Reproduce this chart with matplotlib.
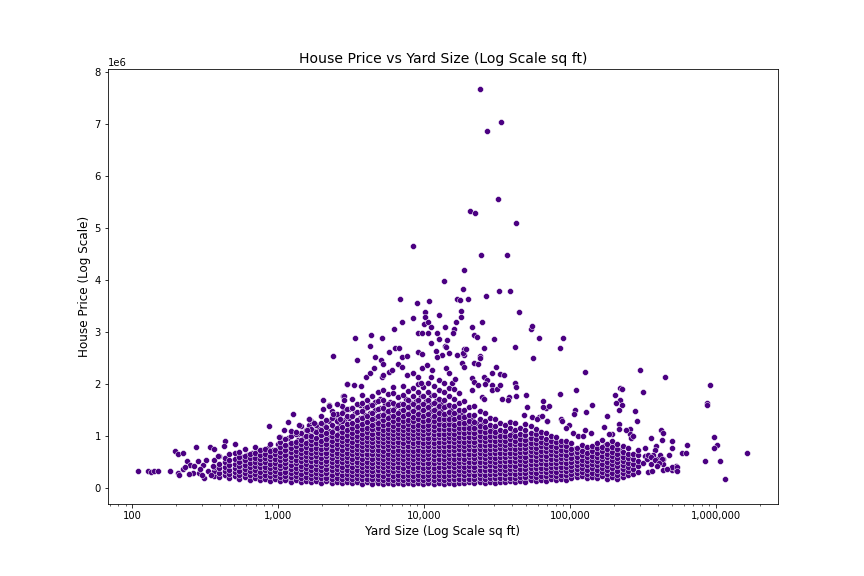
import matplotlib
matplotlib.use("Agg")
import matplotlib.pyplot as plt
from matplotlib.ticker import FuncFormatter

# ---------- DATA ----------
# main body of the cloud: one yard size per column, prices in $k for that column
cloud_yard = [365, 392, 430, 460, 505, 540, 590, 640, 690, 750, 815, 880, 955,
              1035, 1120, 1215, 1320, 1430, 1550, 1680, 1820, 1970, 2140, 2320,
              2510, 2720, 2950, 3200, 3470, 3760, 4070, 4420, 4790, 5190, 5620,
              6100, 6610, 7160, 7760, 8410, 9120, 9890, 10700, 11600, 12600,
              13600, 14800, 16000, 17400, 18800, 20400, 22100, 24000, 26000,
              28200, 30500, 33100, 35900, 38900, 42200, 45700, 49500, 53700,
              58200, 63100, 68400, 74100, 80400, 87100, 94400, 102000, 111000,
              120000, 130000, 141000, 153000, 166000, 180000, 195000, 211000,
              229000, 248000, 269000, 292000]

cloud_price_k = [
    [240, 335, 418, 545],
    [212, 296, 384, 468, 612],
    [251, 327, 413, 497, 588],
    [198, 284, 357, 452, 538, 655],
    [232, 306, 393, 472, 561, 684],
    [178, 263, 338, 424, 497, 593, 702],
    [213, 287, 372, 447, 534, 618, 745],
    [168, 254, 326, 413, 488, 574, 657],
    [193, 268, 353, 428, 514, 587, 684, 792],
    [158, 243, 318, 404, 477, 563, 638, 733],
    [183, 257, 344, 418, 503, 578, 664, 758],
    [148, 234, 307, 393, 468, 553, 627, 724, 843],
    [172, 246, 334, 408, 494, 566, 653, 738],
    [138, 218, 303, 382, 453, 543, 622, 703, 788, 884, 992],
    [164, 243, 318, 407, 478, 566, 637, 728, 827, 938],
    [128, 213, 292, 373, 447, 537, 608, 693, 776, 873, 1004, 1098],
    [152, 232, 313, 388, 478, 547, 633, 712, 803, 897, 1042],
    [118, 203, 282, 364, 437, 528, 597, 684, 762, 853, 937, 1063, 1204],
    [142, 217, 304, 382, 463, 537, 628, 697, 793, 876, 1003, 1127],
    [113, 198, 272, 358, 437, 518, 592, 678, 757, 848, 927, 1013, 1148, 1293],
    [137, 212, 303, 372, 458, 532, 623, 692, 783, 867, 963, 1077, 1224],
    [108, 193, 267, 353, 432, 513, 587, 673, 747, 843, 917, 1014, 1117, 1253, 1388],
    [132, 207, 293, 367, 458, 527, 613, 687, 778, 857, 953, 1057, 1183, 1317],
    [103, 188, 262, 348, 422, 513, 582, 668, 742, 833, 907, 998, 1087, 1213, 1347, 1484],
    [127, 202, 288, 362, 448, 522, 613, 682, 768, 847, 938, 1027, 1153, 1287, 1423],
    [98, 183, 257, 343, 417, 503, 577, 663, 737, 823, 902, 993, 1077, 1173, 1297, 1443, 1587],
    [122, 197, 283, 357, 443, 517, 603, 677, 768, 842, 933, 1017, 1123, 1237, 1383, 1517],
    [93, 178, 252, 338, 412, 498, 572, 658, 732, 818, 892, 983, 1057, 1153, 1247, 1383, 1537, 1724],
    [117, 192, 278, 352, 438, 512, 598, 672, 758, 832, 923, 997, 1093, 1187, 1313, 1457, 1623],
    [88, 173, 247, 333, 407, 493, 567, 653, 727, 813, 887, 973, 1047, 1143, 1237, 1353, 1477, 1643, 1787],
    [112, 187, 273, 347, 433, 507, 593, 667, 753, 827, 913, 987, 1078, 1167, 1273, 1397, 1553, 1697],
    [88, 173, 247, 333, 407, 493, 567, 653, 727, 813, 887, 973, 1047, 1133, 1217, 1323, 1447, 1603, 1777],
    [103, 188, 262, 348, 422, 508, 582, 668, 742, 828, 902, 988, 1067, 1163, 1257, 1383, 1517, 1683, 1847],
    [83, 168, 242, 328, 402, 488, 562, 648, 722, 808, 882, 968, 1042, 1128, 1207, 1303, 1407, 1543, 1697, 1883],
    [107, 182, 268, 342, 428, 502, 588, 662, 748, 822, 908, 982, 1068, 1147, 1243, 1347, 1483, 1627, 1803],
    [83, 168, 242, 328, 402, 488, 562, 648, 722, 808, 882, 968, 1042, 1128, 1202, 1293, 1387, 1513, 1647, 1823, 1947],
    [98, 183, 257, 343, 417, 503, 577, 663, 737, 823, 897, 983, 1057, 1143, 1227, 1333, 1447, 1593, 1757],
    [78, 163, 237, 323, 397, 483, 557, 643, 717, 803, 877, 963, 1037, 1123, 1197, 1293, 1387, 1503, 1627, 1783, 1957],
    [102, 177, 263, 337, 423, 497, 583, 657, 743, 817, 903, 977, 1063, 1137, 1228, 1317, 1433, 1557, 1703, 1867],
    [78, 163, 237, 323, 397, 483, 557, 643, 717, 803, 877, 963, 1037, 1123, 1197, 1288, 1377, 1493, 1617, 1763, 1927],
    [97, 182, 257, 343, 417, 503, 577, 663, 737, 823, 897, 983, 1057, 1143, 1222, 1323, 1427, 1553, 1693, 1853, 2003],
    [78, 163, 237, 323, 397, 483, 557, 643, 717, 803, 877, 963, 1037, 1123, 1197, 1293, 1387, 1503, 1623, 1767, 1943],
    [97, 172, 258, 332, 418, 492, 578, 652, 738, 812, 898, 972, 1058, 1132, 1223, 1317, 1433, 1557, 1703, 1857, 2013],
    [78, 163, 237, 323, 397, 483, 557, 643, 717, 803, 877, 963, 1037, 1123, 1197, 1293, 1387, 1513, 1637, 1793, 1957],
    [93, 178, 252, 338, 412, 498, 572, 658, 732, 818, 892, 978, 1052, 1143, 1227, 1333, 1437, 1573, 1717, 1883, 2077],
    [83, 168, 242, 328, 402, 488, 562, 648, 722, 808, 882, 968, 1042, 1133, 1217, 1323, 1427, 1553, 1687, 1853, 2017],
    [102, 177, 263, 337, 423, 497, 583, 657, 743, 817, 903, 977, 1063, 1142, 1238, 1337, 1463, 1597, 1763, 1927],
    [88, 173, 247, 333, 407, 493, 567, 653, 727, 813, 887, 973, 1047, 1138, 1222, 1328, 1437, 1573, 1717, 1903],
    [107, 182, 268, 342, 428, 502, 588, 662, 748, 822, 908, 982, 1073, 1157, 1263, 1367, 1503, 1647, 1823],
    [93, 178, 252, 338, 412, 498, 572, 658, 732, 818, 892, 978, 1057, 1153, 1247, 1373, 1507, 1683],
    [112, 187, 273, 347, 433, 507, 593, 667, 753, 827, 913, 987, 1078, 1167, 1283, 1407, 1563],
    [98, 183, 257, 343, 417, 503, 577, 663, 737, 823, 897, 983, 1062, 1163, 1267, 1403, 1587],
    [117, 192, 278, 352, 438, 512, 598, 672, 758, 832, 918, 997, 1093, 1197, 1333, 1477],
    [103, 188, 262, 348, 422, 508, 582, 668, 742, 828, 902, 993, 1077, 1183, 1297, 1453],
    [122, 197, 283, 357, 443, 517, 603, 677, 763, 837, 923, 1002, 1103, 1207, 1353],
    [108, 193, 267, 353, 427, 513, 587, 673, 747, 833, 907, 998, 1087, 1203, 1327],
    [127, 202, 288, 362, 448, 522, 608, 682, 768, 842, 928, 1013, 1123, 1247],
    [113, 198, 272, 358, 432, 518, 592, 678, 752, 838, 912, 1003, 1097, 1223],
    [132, 207, 293, 367, 453, 527, 613, 687, 773, 847, 938, 1027, 1153, 1277],
    [118, 203, 277, 363, 437, 523, 597, 683, 757, 843, 917, 1013, 1117, 1253],
    [142, 217, 303, 377, 463, 537, 623, 697, 783, 857, 948, 1037, 1163],
    [128, 213, 287, 373, 447, 533, 607, 693, 767, 853, 927, 1023, 1127, 1233],
    [152, 227, 313, 387, 473, 547, 633, 707, 793, 872, 968, 1067, 1193],
    [138, 223, 297, 383, 457, 543, 617, 703, 777, 863, 943, 1043, 1147],
    [162, 237, 323, 397, 483, 557, 643, 717, 803, 882, 983, 1087],
    [148, 233, 307, 393, 467, 553, 627, 713, 787, 873, 953, 1063],
    [172, 247, 333, 407, 493, 567, 653, 727, 818, 902, 1013],
    [158, 243, 317, 403, 477, 563, 637, 723, 797, 888, 977],
    [182, 257, 343, 417, 503, 577, 663, 737, 828, 917],
    [168, 253, 327, 413, 487, 573, 647, 733, 812, 908],
    [192, 267, 353, 427, 513, 587, 673, 757, 863],
    [212, 287, 373, 447, 533, 607, 693, 777],
    [228, 313, 387, 473, 547, 633, 717, 833],
    [198, 283, 357, 443, 517, 603, 687, 797],
    [222, 297, 383, 457, 543, 617, 713, 817],
    [198, 283, 357, 443, 517, 603, 677, 773, 877],
    [232, 307, 393, 467, 553, 627, 713, 797, 923],
    [188, 273, 347, 433, 507, 593, 667, 753, 847],
    [222, 297, 383, 457, 543, 617, 703, 787, 903],
    [178, 263, 337, 423, 497, 583, 657, 753, 857],
    [212, 287, 373, 447, 533, 607, 703, 817],
    [252, 327, 413, 487, 573, 657, 783],
    [283, 377, 473, 557, 663],
    [318, 423, 517, 643],
]

# second set of columns sitting between the first ones, the cloud is that packed
cloud2_yard = [522, 565, 614, 665, 720, 782, 847, 917, 994, 1077, 1166, 1267,
               1374, 1489, 1614, 1749, 1894, 2053, 2228, 2413, 2614, 2833, 3072,
               3332, 3612, 3912, 4241, 4601, 4986, 5402, 5855, 6350, 6879, 7454,
               8079, 8760, 9497, 10290, 11140, 12090, 13090, 14190, 15390, 16680,
               18090, 19600, 21240, 23030, 24980, 27080, 29340, 31780, 34470,
               37370, 40520, 43920, 47560, 51570, 55910, 60600, 65700, 71190,
               77190, 83680, 90680, 98130, 106400, 115500, 124900, 135700,
               147000, 159400, 172800, 187300, 203000, 220000]

cloud2_price_k = [
    [245, 330, 408, 495, 570],
    [275, 358, 442, 518, 606],
    [230, 316, 392, 477, 555, 643],
    [265, 340, 428, 502, 587, 669],
    [216, 302, 376, 463, 539, 626, 701],
    [248, 327, 412, 486, 572, 652, 737],
    [203, 288, 361, 449, 522, 612, 684, 777],
    [237, 313, 402, 474, 561, 638, 727],
    [192, 276, 358, 436, 512, 598, 673, 762, 855],
    [222, 302, 386, 463, 547, 626, 708, 797],
    [183, 267, 346, 428, 503, 589, 667, 753, 838, 962],
    [211, 291, 377, 451, 537, 616, 698, 783, 878],
    [173, 258, 336, 418, 492, 578, 658, 743, 824, 922, 1052],
    [202, 281, 366, 442, 527, 606, 688, 773, 868, 987],
    [167, 252, 327, 412, 486, 573, 651, 737, 818, 908, 1021, 1211],
    [196, 276, 358, 437, 522, 598, 682, 767, 852, 952, 1102],
    [161, 243, 323, 402, 481, 566, 644, 728, 808, 897, 1002, 1142],
    [188, 268, 351, 431, 512, 593, 674, 756, 841, 933, 1044, 1207],
    [156, 238, 317, 397, 477, 559, 638, 722, 804, 887, 981, 1092, 1292],
    [182, 263, 347, 424, 506, 587, 666, 749, 833, 923, 1028, 1167, 1342],
    [151, 232, 313, 392, 472, 552, 634, 713, 797, 878, 962, 1058, 1248, 1402],
    [177, 258, 338, 418, 499, 581, 662, 742, 822, 907, 1002, 1118, 1308, 1496],
    [146, 227, 308, 387, 468, 547, 627, 708, 788, 869, 952, 1043, 1162, 1356, 1532],
    [172, 252, 333, 413, 492, 573, 656, 734, 816, 898, 981, 1077, 1222, 1444],
    [141, 222, 302, 383, 461, 543, 623, 702, 784, 863, 946, 1027, 1123, 1232, 1352, 1601],
    [167, 247, 328, 407, 488, 568, 651, 728, 811, 892, 973, 1058, 1157, 1272, 1406, 1548],
    [138, 218, 298, 378, 458, 538, 618, 698, 778, 858, 938, 1022, 1107, 1202, 1317, 1442, 1591],
    [162, 243, 322, 402, 483, 562, 644, 723, 804, 883, 966, 1047, 1134, 1236, 1358, 1506, 1658],
    [133, 213, 293, 373, 454, 534, 614, 693, 773, 854, 933, 1016, 1097, 1187, 1286, 1402, 1543, 1706],
    [157, 237, 317, 397, 477, 557, 637, 717, 797, 877, 958, 1041, 1127, 1222, 1333, 1468, 1628],
    [132, 212, 292, 372, 452, 532, 612, 692, 772, 852, 932, 1012, 1093, 1178, 1272, 1379, 1501, 1652],
    [152, 232, 312, 392, 472, 552, 632, 712, 792, 872, 952, 1033, 1118, 1208, 1311, 1432, 1571],
    [128, 208, 288, 368, 448, 528, 608, 688, 768, 848, 928, 1008, 1088, 1171, 1261, 1362, 1482, 1616],
    [148, 228, 308, 388, 468, 548, 628, 708, 788, 868, 948, 1028, 1112, 1202, 1306, 1422, 1557, 1708],
    [128, 208, 288, 368, 448, 528, 608, 688, 768, 848, 928, 1008, 1088, 1173, 1264, 1370, 1492, 1629],
    [148, 228, 308, 388, 468, 548, 628, 708, 788, 868, 948, 1028, 1110, 1197, 1296, 1412, 1538, 1683],
    [128, 208, 288, 368, 448, 528, 608, 688, 768, 848, 928, 1008, 1088, 1170, 1258, 1358, 1477, 1612, 1773],
    [146, 226, 306, 386, 466, 546, 626, 706, 786, 866, 946, 1026, 1108, 1196, 1292, 1406, 1533, 1678],
    [128, 208, 288, 368, 448, 528, 608, 688, 768, 848, 928, 1008, 1088, 1170, 1257, 1358, 1477, 1618, 1783],
    [144, 224, 304, 384, 464, 544, 624, 704, 784, 864, 944, 1024, 1106, 1193, 1291, 1402, 1527, 1677],
    [130, 210, 290, 370, 450, 530, 610, 690, 770, 850, 930, 1010, 1091, 1176, 1266, 1372, 1492, 1632],
    [147, 227, 307, 387, 467, 547, 627, 707, 787, 867, 947, 1028, 1113, 1203, 1306, 1432, 1571],
    [134, 214, 294, 374, 454, 534, 614, 694, 774, 854, 934, 1015, 1097, 1182, 1276, 1384, 1517],
    [151, 231, 311, 391, 471, 551, 631, 711, 791, 871, 951, 1032, 1118, 1212, 1322, 1453],
    [138, 218, 298, 378, 458, 538, 618, 698, 778, 858, 938, 1020, 1104, 1197, 1302, 1431],
    [156, 236, 316, 396, 476, 556, 636, 716, 796, 876, 957, 1041, 1131, 1238, 1362],
    [144, 224, 304, 384, 464, 544, 624, 704, 784, 864, 944, 1026, 1111, 1212, 1332],
    [160, 240, 320, 400, 480, 560, 640, 720, 800, 880, 961, 1047, 1142, 1256],
    [150, 230, 310, 390, 470, 550, 630, 710, 790, 870, 951, 1036, 1131, 1243],
    [166, 246, 326, 406, 486, 566, 646, 726, 806, 886, 968, 1057, 1161],
    [156, 236, 316, 396, 476, 556, 636, 716, 796, 876, 958, 1046, 1146],
    [172, 252, 332, 412, 492, 572, 652, 732, 812, 893, 978, 1077],
    [162, 242, 322, 402, 482, 562, 642, 722, 802, 882, 964, 1056],
    [176, 256, 336, 416, 496, 576, 656, 736, 816, 897, 984],
    [166, 246, 326, 406, 486, 566, 646, 726, 806, 887, 972, 1074],
    [186, 266, 346, 426, 506, 586, 666, 746, 826, 908, 997],
    [176, 256, 336, 416, 496, 576, 656, 736, 816, 897, 982],
    [196, 276, 356, 436, 516, 596, 676, 756, 837, 922],
    [186, 266, 346, 426, 506, 586, 666, 746, 827, 910, 1002],
    [206, 286, 366, 446, 526, 606, 686, 767, 850],
    [196, 276, 356, 436, 516, 596, 676, 756, 837, 922],
    [216, 296, 376, 456, 536, 616, 697, 780, 870],
    [206, 286, 366, 446, 526, 606, 686, 767, 852],
    [226, 306, 386, 466, 546, 626, 707, 791],
    [216, 296, 376, 456, 536, 616, 696, 778, 866],
    [238, 318, 398, 478, 558, 638, 721, 811],
    [258, 338, 418, 498, 578, 660, 747],
    [243, 323, 403, 483, 563, 645, 733],
    [276, 356, 436, 516, 596, 682, 781],
    [251, 331, 411, 491, 571, 653, 742],
    [248, 328, 408, 488, 568, 650, 737],
    [256, 336, 416, 496, 576, 658, 746],
    [248, 328, 408, 488, 568, 651, 738, 833],
    [243, 323, 403, 483, 563, 645, 731, 824],
    [236, 316, 396, 476, 556, 638, 726, 832],
    [232, 312, 392, 472, 552, 636, 728],
]

# thinner points around and above the cloud, and the far outliers
sparse_yard = [110, 128, 134, 140, 149, 180, 195, 204, 221, 204, 209, 224, 235,
               249, 272, 260, 280, 288, 307, 318, 310, 342, 360, 428, 422, 502,
               389, 231, 243, 292, 330, 345, 300, 265, 355, 857, 1019, 1270,
               1157, 1382, 1616, 2373, 2975, 2040, 2020, 2215, 2780, 1095, 1317,
               1770, 1585, 1616, 2220, 2530, 2800, 2800, 3200, 2390, 2660, 3330,
               2960, 3710, 4020, 4260, 4560, 5100, 5260, 5700, 6000, 6610, 7020,
               7620, 8450, 9100, 9460, 9740, 10430, 11140, 11290, 14190, 14840,
               15460, 16380, 3340, 4350, 5180, 4220, 3490, 4570, 6350, 6670,
               5700, 5090, 5250, 7060, 7570]
sparse_price_k = [330, 340, 315, 330, 330, 330, 725, 650, 685, 300, 250, 380,
                  530, 440, 790, 300, 515, 300, 455, 540, 200, 790, 750, 915,
                  820, 860, 615, 410, 283, 379, 330, 250, 250, 420, 420, 1190,
                  990, 1435, 1280, 1225, 1325, 2550, 1995, 1690, 1530, 1590,
                  1780, 1115, 1075, 1245, 1110, 1333, 1577, 1610, 1769, 1692,
                  1533, 1436, 1333, 1981, 2000, 1967, 2129, 2217, 2302, 2129,
                  2173, 2236, 2269, 2385, 2333, 2173, 2217, 2129, 2013, 2302,
                  2365, 2141, 2269, 2302, 2206, 2013, 2090, 2879, 2937, 2879,
                  2725, 2456, 2513, 2686, 2686, 2610, 2456, 2379, 2513, 2533]

upper_yard = [24300, 33850, 27150, 32280, 20750, 22450, 42850, 8320, 24660,
              37150, 18880, 13770, 18580, 26600, 32800, 39000, 6780, 9000, 10810,
              16900, 17500, 20100, 44950, 10200, 10200, 12540, 17980, 17980, 7100,
              8320, 10040, 10690, 11220, 6170, 16560, 16100, 13970, 21430, 25060,
              54330, 55200, 61660, 90000, 85900, 42170, 56100, 30300, 25900,
              21800, 22950, 12330, 12730, 11220, 14450, 13970, 15840, 126800,
              12080, 13340, 14850, 18700, 18900, 24200, 9110, 9730, 10700, 9110,
              9730, 12330, 14100, 16900, 18580, 19300, 18300, 18900, 21800,
              23500, 24200, 21430, 21800, 31000, 25900, 26900, 29000, 33100,
              35300, 42170, 42850, 33900, 37960, 65600, 68000, 60800, 69700,
              50200, 50400, 42500, 37300, 26300, 29000, 29300, 31400, 33100,
              21400, 23300, 25100, 25900]
upper_price_k = [7670, 7033, 6860, 5552, 5327, 5283, 5090, 4648, 4475, 4475,
                 4186, 3975, 3821, 3686, 3782, 3782, 3628, 3552, 3590, 3628,
                 3610, 3628, 3379, 3379, 3283, 3321, 3398, 3283, 3186, 3263,
                 3148, 3186, 3090, 3052, 3186, 3052, 3090, 3090, 3186, 3052,
                 3110, 2879, 2879, 2686, 2706, 2494, 2860, 2686, 2937, 2898,
                 2975, 2860, 2783, 2840, 2725, 2975, 2225, 2629, 2552, 2590,
                 2667, 2552, 2533, 2975, 2975, 2975, 2610, 2571, 2513, 2717,
                 2558, 2590, 2667, 2398, 2333, 2398, 2379, 2494, 2121, 2038,
                 2321, 2141, 2071, 2206, 2192, 2173, 2013, 1937, 1712, 1756,
                 1679, 1544, 1360, 1288, 1788, 1563, 1775, 1692, 1994, 1981,
                 1885, 1898, 1981, 1885, 1981, 1756, 1706]

right_yard = [303400, 449500, 914000, 873000, 873000, 110400, 85900, 204300,
              219800, 227800, 317600, 219800, 207500, 227800, 215300, 142300,
              129400, 108700, 107100, 65600, 72100, 48600, 55200, 59700, 64600,
              70000, 87000, 88500, 98000, 93300, 180200, 172000, 280000, 289000,
              360500, 390000, 422000, 435000, 428500, 501000, 501000, 582000,
              620000, 637000, 478000, 435000, 435000, 392000, 360500, 343700,
              366000, 501000, 536000, 536000, 435000, 317600, 328000, 845000,
              973000, 1018000, 973000, 1071000, 1159000, 1637000, 294000,
              216600, 216600, 259000, 259000, 263000, 243000, 271700, 195000,
              186000, 140000, 127300, 105400, 114000, 123300, 384600, 372700,
              415000, 428000, 328000, 339000, 343700, 360500, 384600, 409000,
              397000, 498000, 539000, 539000, 461000]
right_price_k = [2263, 2129, 1975, 1629, 1590, 1879, 1802, 1783, 1917, 1898,
                 1840, 1686, 1629, 1590, 1494, 1590, 1456, 1513, 1436, 1552,
                 1571, 1398, 1360, 1340, 1379, 1283, 1340, 1283, 1206, 1167,
                 1379, 1186, 1475, 1283, 975, 821, 1110, 1071, 937, 917, 783,
                 687, 687, 840, 648, 571, 475, 571, 475, 321, 340, 360, 437,
                 360, 360, 494, 629, 533, 994, 840, 783, 533, 187, 687, 744,
                 1244, 1148, 1148, 1052, 975, 1129, 1013, 1052, 1052, 1071,
                 1129, 1071, 1013, 1013, 744, 648, 648, 571, 783, 571, 648, 610,
                 552, 481, 437, 417, 417, 340, 379]

# ---------- BUILD POINT LIST ----------
yard, price = [], []
for xs_cols, ps_cols in [(cloud2_yard, cloud2_price_k), (cloud_yard, cloud_price_k)]:
    for x, col in zip(xs_cols, ps_cols):
        for p in col:
            yard.append(x)
            price.append(p * 1000)
for xs, ps in [(sparse_yard, sparse_price_k), (upper_yard, upper_price_k),
               (right_yard, right_price_k)]:
    yard += xs
    price += [p * 1000 for p in ps]

# ---------- PLOT ----------
fig, ax = plt.subplots(figsize=(12, 8), dpi=72)
fig.subplots_adjust(left=0.125, right=0.9, bottom=0.125, top=0.88)

ax.scatter(yard, price, s=36, color="indigo", edgecolors="white", linewidths=0.48)
ax.set_xscale("log")
ax.xaxis.set_major_formatter(FuncFormatter(lambda v, _: f"{int(v):,}"))

ax.set_title("House Price vs Yard Size (Log Scale sq ft)", fontsize=14)
ax.set_xlabel("Yard Size (Log Scale sq ft)", fontsize=12)
ax.set_ylabel("House Price (Log Scale)", fontsize=12)

fig.savefig("out.png", dpi=72)
